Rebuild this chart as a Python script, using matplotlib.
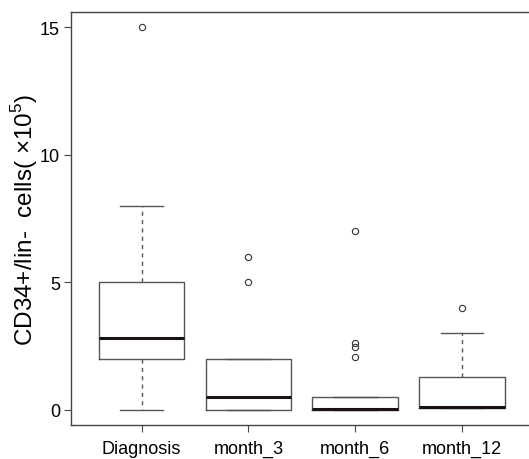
import matplotlib
matplotlib.use("Agg")
import matplotlib.pyplot as plt

plt.rcParams['font.family'] = ['Liberation Sans', 'DejaVu Sans']
plt.rcParams['mathtext.fontset'] = 'custom'
plt.rcParams['mathtext.rm'] = 'Liberation Sans'

# box statistics
groups = ['Diagnosis', 'month_3', 'month_6', 'month_12']
q1 = [2.0, 0.0, 0.0, 0.05]
med = [2.8, 0.5, 0.03, 0.12]
q3 = [5.0, 2.0, 0.5, 1.28]
whislo = [0.0, 0.0, 0.0, 0.05]
whishi = [8.0, 2.0, 0.5, 3.0]
fliers = [[15.0], [5.0, 6.0], [2.05, 2.45, 2.6, 7.0], [4.0]]

stats = []
for i, g in enumerate(groups):
    stats.append(dict(label=g, q1=q1[i], med=med[i], q3=q3[i],
                      whislo=whislo[i], whishi=whishi[i], fliers=fliers[i]))

fig = plt.figure(figsize=(5.29, 4.60), dpi=100)
ax = fig.add_axes([0.1342, 0.0739, 0.8726, 0.8978])

edge = '#555555'
ax.bxp(stats, positions=[1, 2, 3, 4], widths=0.8,
       boxprops=dict(color=edge, lw=1.0),
       medianprops=dict(color='#1a1212', lw=2.2, solid_capstyle='butt'),
       whiskerprops=dict(color=edge, lw=1.0, linestyle=(0, (3, 3))),
       capprops=dict(color=edge, lw=1.0),
       capwidths=0.4,
       flierprops=dict(marker='o', markersize=4.5, markerfacecolor='none',
                       markeredgecolor='#333333', markeredgewidth=0.8))

ax.set_xlim(0.34, 4.66)
ax.set_ylim(-0.6, 15.6)
ax.set_yticks([0, 5, 10, 15])
ax.set_yticklabels(['0', '5', '10', '15'])
for s in ax.spines.values():
    s.set_color('#444444')
    s.set_linewidth(1.0)
ax.tick_params(axis='both', direction='out', length=5, color='#444444',
               labelsize=13, pad=3)
ax.tick_params(axis='x', pad=6)
ax.set_ylabel('CD34+/lin-  cells( \u00d710$^{5}$)', fontsize=17.5)
ax.yaxis.set_label_coords(-0.068, 0.499)

fig.savefig('out.png', dpi=100)
